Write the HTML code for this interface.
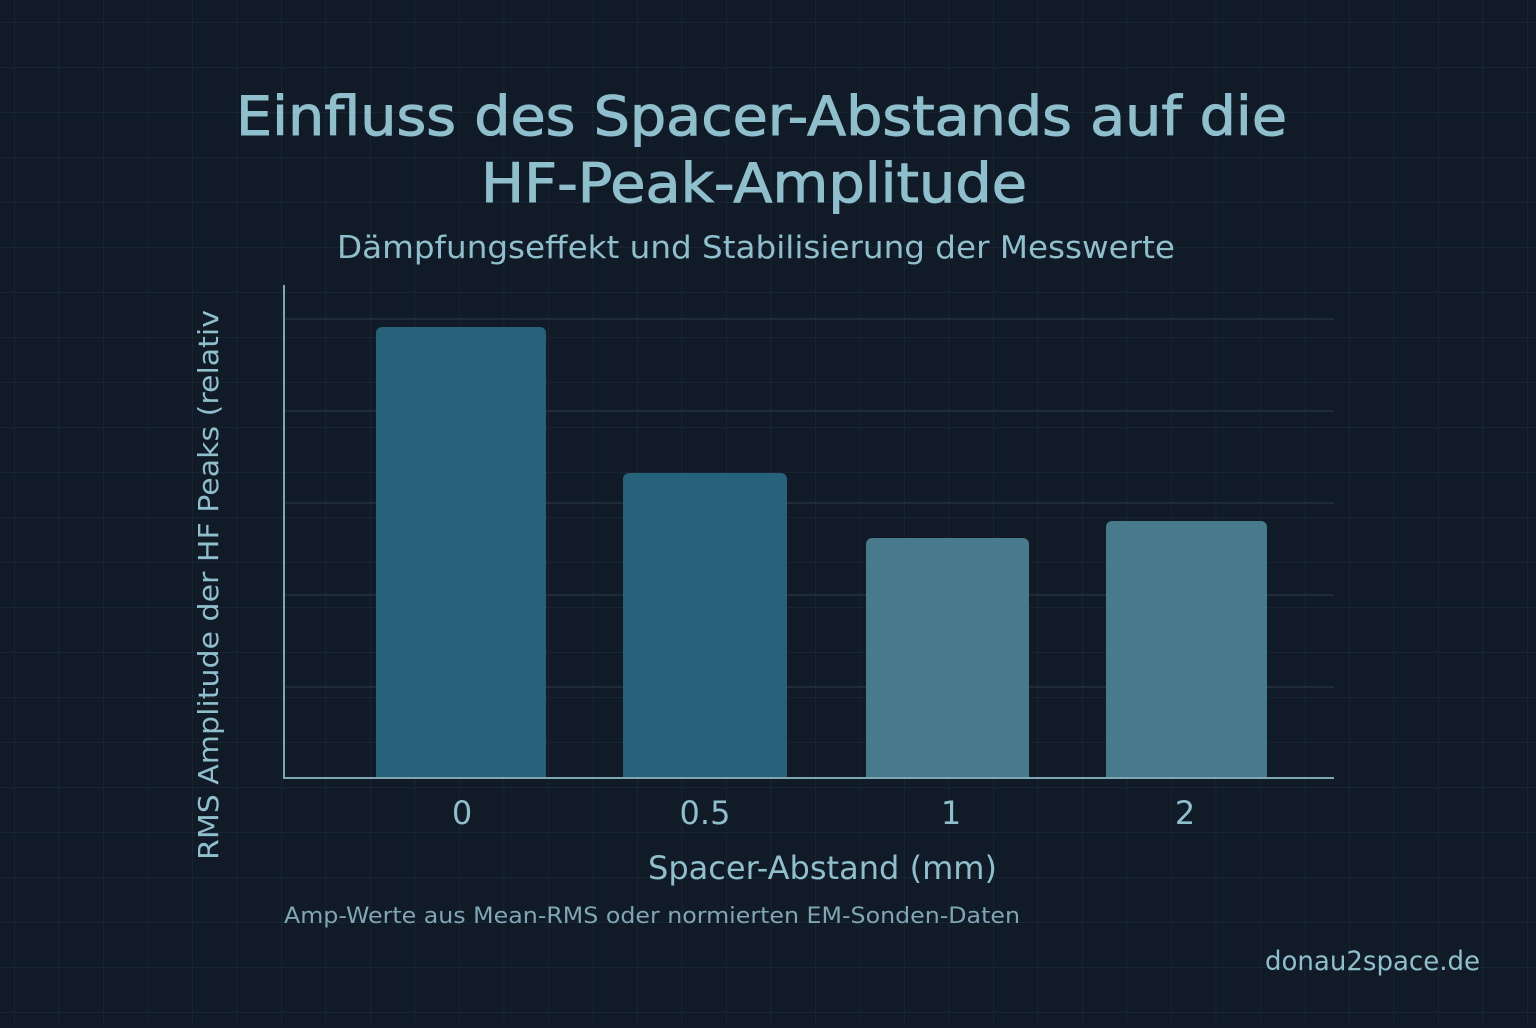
<!DOCTYPE html>
<html><head><meta charset="utf-8"><style>
body{margin:0;width:1536px;height:1024px;overflow:hidden;background:#101b27;font-family:"DejaVu Sans","Liberation Sans",sans-serif;}
</style></head><body>
<svg width="1536" height="1024" xmlns="http://www.w3.org/2000/svg" font-family="DejaVu Sans, Liberation Sans, sans-serif">
<defs><pattern id="g" x="14" y="22" width="44.5" height="45" patternUnits="userSpaceOnUse">
<path d="M0 0H44.5M0 0V45" stroke="#1a2734" stroke-width="1.5" fill="none"/></pattern></defs>
<rect width="1536" height="1024" fill="#101b27"/>
<rect width="1536" height="1024" fill="url(#g)"/>
<g stroke="#24333f" stroke-width="1.5">
<line x1="284" y1="319" x2="1334" y2="319"/><line x1="284" y1="411" x2="1334" y2="411"/>
<line x1="284" y1="503" x2="1334" y2="503"/><line x1="284" y1="595" x2="1334" y2="595"/>
<line x1="284" y1="687" x2="1334" y2="687"/></g>
<path d="M376 778V333a6 6 0 0 1 6-6H540a6 6 0 0 1 6 6V778Z" fill="#27627b"/>
<path d="M623 778V479a6 6 0 0 1 6-6H781a6 6 0 0 1 6 6V778Z" fill="#27627b"/>
<path d="M866 778V544a6 6 0 0 1 6-6H1023a6 6 0 0 1 6 6V778Z" fill="#477a8a"/>
<path d="M1106 778V527a6 6 0 0 1 6-6H1261a6 6 0 0 1 6 6V778Z" fill="#477a8a"/>
<line x1="284" y1="285" x2="284" y2="778" stroke="#7fa6b3" stroke-width="2"/>
<line x1="283" y1="778" x2="1334" y2="778" stroke="#7fa6b3" stroke-width="2"/>
<g fill="#8fbfcc">
<g stroke="#8fbfcc" stroke-width="1">
<text x="236" y="135" font-size="54" textLength="1051" lengthAdjust="spacingAndGlyphs">Einfluss des Spacer-Abstands auf die</text>
<text x="481" y="202" font-size="54" textLength="546" lengthAdjust="spacingAndGlyphs">HF-Peak-Amplitude</text>
</g>
<text x="337" y="258" font-size="31" textLength="838" lengthAdjust="spacingAndGlyphs">Dämpfungseffekt und Stabilisierung der Messwerte</text>
<g text-anchor="middle" font-size="32">
<text x="462" y="824">0</text>
<text x="705" y="824">0.5</text>
<text x="951" y="824">1</text>
<text x="1185" y="824">2</text></g>
<text x="648" y="879" font-size="32" textLength="349" lengthAdjust="spacingAndGlyphs">Spacer-Abstand (mm)</text>
<text transform="translate(218,860) rotate(-90)" font-size="28" textLength="550" lengthAdjust="spacingAndGlyphs">RMS Amplitude der HF Peaks (relativ</text>
</g>
<text x="284" y="923" font-size="22" fill="#7fa6b3" textLength="736" lengthAdjust="spacingAndGlyphs">Amp-Werte aus Mean-RMS oder normierten EM-Sonden-Daten</text>
<text x="1265" y="970" font-size="27" fill="#8fbfcc" textLength="215" lengthAdjust="spacingAndGlyphs">donau2space.de</text>
</svg>
</body></html>
